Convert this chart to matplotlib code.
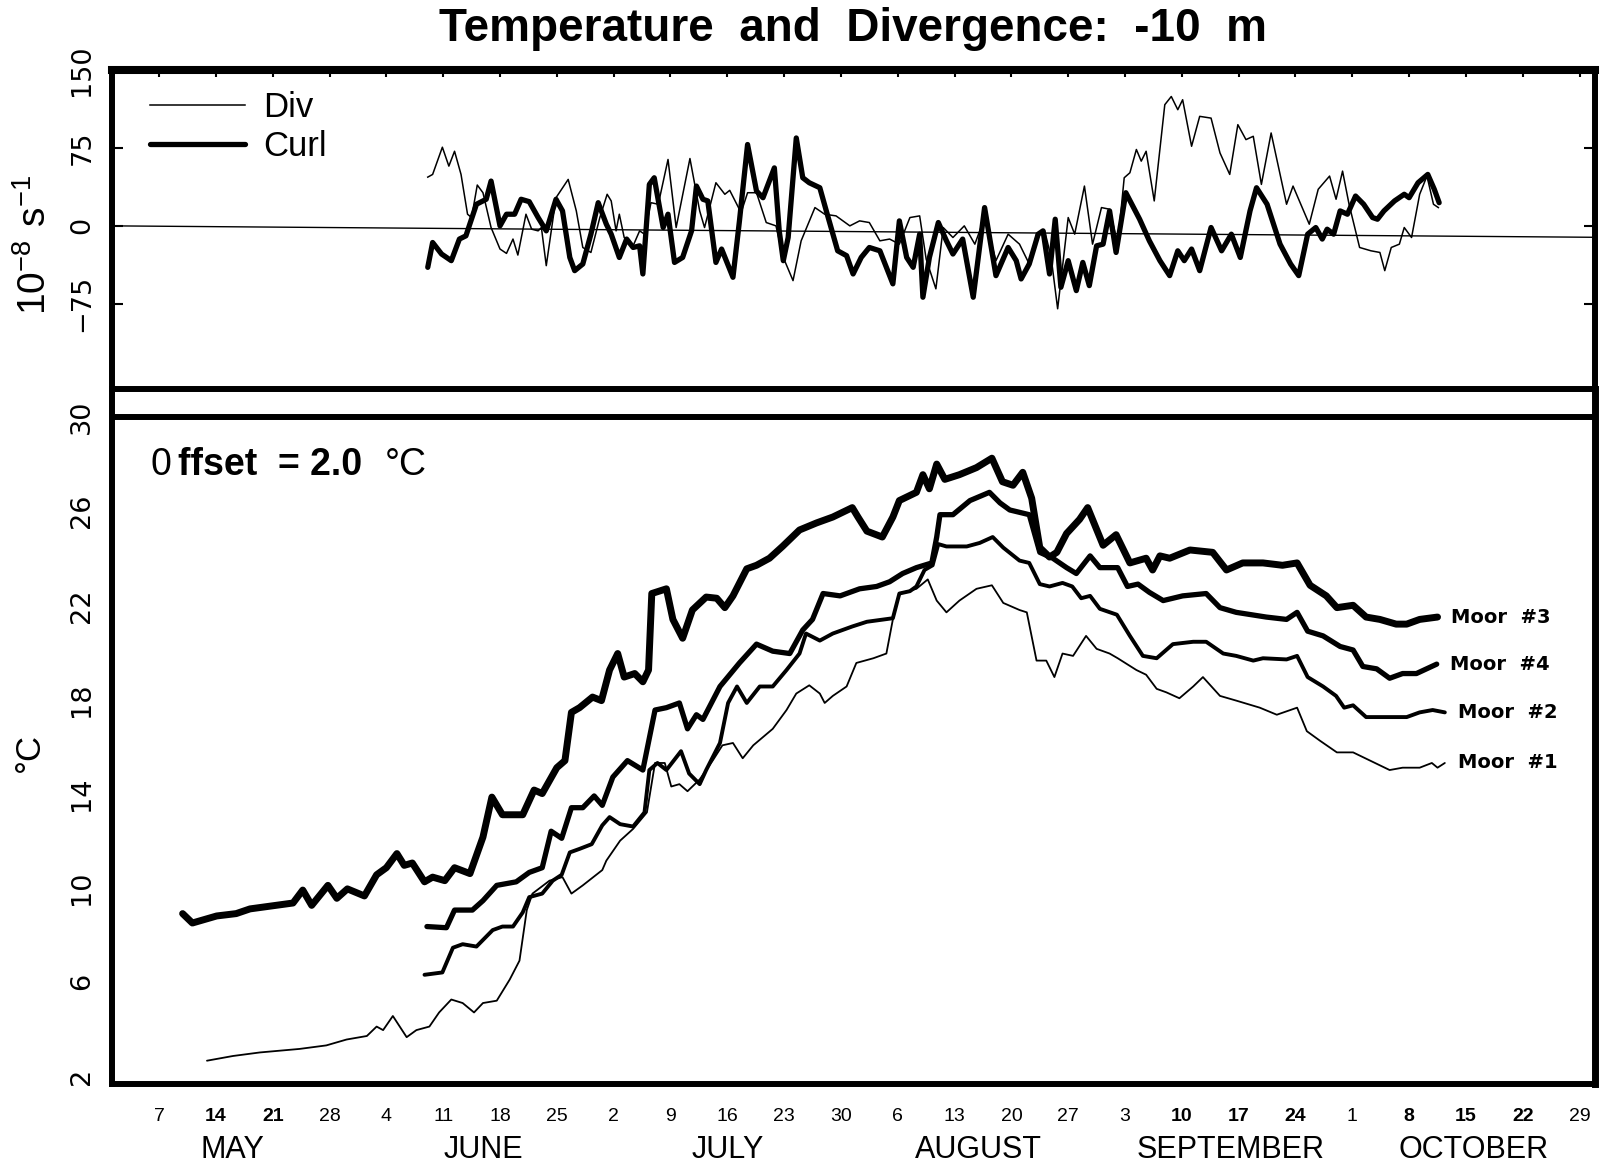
"""
Temperature and divergence at -10 m: curl/div time series above,
mooring temperatures (offset 2 C) below.
"""

import numpy as np
import matplotlib.pyplot as plt

plt.rcParams['mathtext.fontset'] = 'custom'
plt.rcParams['mathtext.rm'] = 'Liberation Sans'

NARROW = ['Liberation Sans Narrow', 'Liberation Sans']

# x axis is day of year (May 7 = 127)
week_days = [127, 134, 141, 148, 155, 162, 169, 176, 183, 190, 197, 204, 211,
	218, 225, 232, 239, 246, 253, 260, 267, 274, 281, 288, 295, 302]
week_labels = ['7', '14', '21', '28', '4', '11', '18', '25', '2', '9', '16', '23', '30',
	'6', '13', '20', '27', '3', '10', '17', '24', '1', '8', '15', '22', '29']
bold_weeks = [1, 2, 18, 19, 20, 22, 23, 24]
month_days = [136, 167, 197, 228, 259, 289]
month_labels = ['MAY', 'JUNE', 'JULY', 'AUGUST', 'SEPTEMBER', 'OCTOBER']

# top panel, 10^-8 s^-1 (zero line is slightly tilted in the scan)
zero_line = [(121.2, 0.0), (303.9, -11.0)]

div_pts = [(160.1, 46.9), (160.7, 49.5), (161.9, 75.7), (162.7, 57.5), (163.4, 71.8),
	(164.2, 49.5), (165.0, 11.2), (165.5, 8.0), (166.2, 39.3), (166.9, 31.9),
	(167.9, -1.6), (169.0, -22.3), (169.8, -26.5), (170.6, -12.7), (171.2, -28.1),
	(172.2, 11.2), (172.9, -3.2), (173.7, -4.8), (174.1, -1.6), (174.7, -38.3),
	(175.9, 27.1), (177.4, 44.7), (178.4, 14.4), (179.2, -20.8), (180.2, -25.6),
	(181.3, 8.0), (182.2, 30.4), (182.7, 24.0), (183.3, -4.8), (183.7, 11.2),
	(184.3, -11.2), (185.4, -19.2), (186.2, -4.8), (186.8, -8.0), (187.6, 22.3),
	(188.5, 20.8), (189.7, 63.9), (190.7, -1.6), (192.4, 64.8), (193.6, 14.4),
	(194.2, -1.6), (195.6, 41.5), (196.7, 30.4), (197.3, 34.2), (198.7, 12.7),
	(199.5, 31.9), (200.6, 31.9), (201.8, 3.2), (203.0, 0.0), (203.9, -30.4),
	(205.1, -52.7), (206.1, -14.4), (207.8, 17.6), (209.0, 11.2), (210.4, 9.6),
	(212.1, 0.0), (213.3, 4.8), (214.5, 3.2), (215.8, -14.4), (217.0, -12.7),
	(218.2, -17.6), (219.5, 8.0), (220.7, 9.6), (221.5, -31.9), (222.7, -60.6),
	(223.6, -1.6), (224.8, -11.2), (226.2, 0.0), (227.5, -17.6), (228.7, 8.0),
	(230.1, -33.5), (231.6, -8.0), (233.0, -17.6), (234.2, -36.7), (235.1, -8.0),
	(236.1, -4.8), (236.9, -30.4), (237.7, -79.8), (239.0, 8.0), (239.8, -8.0),
	(241.0, 38.3), (242.0, -17.6), (243.1, 17.6), (244.1, 16.0), (245.1, -17.6),
	(245.9, 46.3), (246.6, 51.1), (247.4, 73.5), (248.0, 62.3), (248.6, 71.8),
	(249.6, 24.0), (250.9, 116.6), (251.7, 124.5), (252.5, 111.8), (253.1, 121.4),
	(254.2, 76.6), (255.2, 105.4), (256.6, 103.7), (257.7, 70.2), (258.9, 49.5),
	(259.9, 97.4), (260.9, 83.0), (261.8, 86.2), (262.8, 39.9), (264.0, 89.4),
	(265.9, 20.8), (266.7, 38.3), (268.7, 1.6), (269.8, 35.2), (271.2, 47.9),
	(272.0, 25.6), (272.8, 52.7), (273.6, 20.8), (274.9, -20.8), (276.3, -24.0),
	(277.4, -25.6), (278.0, -43.1), (278.8, -20.8), (279.8, -17.6), (280.4, -1.6),
	(281.3, -11.2), (282.3, 30.4), (283.2, 47.9), (284.0, 20.8), (284.6, 17.6)]

curl_pts = [(160.1, -39.9), (160.7, -16.0), (161.8, -27.1), (163.0, -33.5), (164.0, -12.7),
	(164.8, -9.6), (166.1, 20.8), (167.3, 25.6), (167.9, 43.1), (169.0, 0.0),
	(169.8, 11.2), (170.8, 11.2), (171.6, 25.6), (172.6, 23.3), (173.7, 8.0),
	(174.7, -4.8), (175.9, 25.6), (176.7, 14.4), (177.6, -30.4), (178.2, -43.1),
	(179.2, -36.7), (180.2, -8.0), (181.1, 22.3), (182.1, 1.6), (182.7, -8.0),
	(183.7, -30.4), (184.6, -12.7), (185.4, -20.8), (186.2, -19.2), (186.6, -46.3),
	(187.4, 39.9), (188.0, 46.3), (189.1, -1.6), (189.7, 11.2), (190.5, -35.2),
	(191.5, -30.4), (192.6, -4.8), (193.2, 38.3), (194.0, 25.6), (194.6, 24.0),
	(195.6, -35.2), (196.3, -22.3), (197.7, -49.5), (198.5, 4.8), (199.5, 78.3),
	(200.6, 33.5), (201.4, 27.1), (202.8, 55.8), (203.4, -4.8), (203.9, -33.5),
	(204.5, -11.2), (205.5, 84.6), (206.3, 46.3), (207.1, 41.5), (208.4, 36.7),
	(209.2, 14.4), (210.6, -24.0), (211.7, -28.7), (212.5, -46.3), (213.5, -30.4),
	(214.5, -20.8), (215.8, -24.0), (217.4, -55.8), (218.2, 4.8), (219.1, -30.4),
	(219.9, -39.9), (220.7, -8.0), (221.1, -68.7), (221.9, -30.4), (223.0, 3.2),
	(224.0, -14.4), (224.8, -27.1), (226.0, -12.7), (227.3, -68.7), (228.7, 17.6),
	(230.1, -47.9), (231.6, -20.8), (232.6, -33.5), (233.2, -51.1), (234.2, -36.7),
	(235.3, -8.0), (235.9, -4.8), (236.7, -46.3), (237.4, 6.4), (238.1, -59.1),
	(239.0, -33.5), (240.0, -62.3), (240.8, -35.2), (241.6, -57.5), (242.5, -19.2),
	(243.3, -17.6), (244.1, 14.4), (244.9, -25.6), (246.1, 31.9), (247.8, 6.4),
	(249.0, -14.4), (250.3, -33.5), (251.5, -47.9), (252.5, -24.0), (253.3, -33.5),
	(254.2, -22.3), (255.2, -43.1), (256.6, -1.6), (257.9, -24.0), (259.1, -8.0),
	(260.2, -30.4), (261.4, 14.4), (262.2, 36.7), (263.5, 20.8), (265.1, -17.6),
	(266.4, -36.7), (267.4, -47.9), (268.5, -8.0), (269.5, -1.6), (270.3, -12.7),
	(270.9, -3.2), (271.7, -8.0), (272.5, 14.4), (273.4, 11.2), (274.4, 28.7),
	(275.4, 20.8), (276.5, 8.0), (277.1, 6.4), (277.9, 14.4), (279.2, 24.0),
	(280.4, 30.4), (281.0, 27.1), (282.1, 41.5), (283.3, 49.5), (284.1, 35.2),
	(284.7, 22.3)]

# bottom panel, deg C
moor3_pts = [(129.9, 8.9), (131.1, 8.5), (134.1, 8.8), (136.5, 8.9), (138.2, 9.1),
	(143.5, 9.35), (144.7, 9.9), (145.8, 9.25), (147.8, 10.1), (148.9, 9.55),
	(150.2, 9.95), (152.3, 9.65), (153.8, 10.55), (155.0, 10.85), (156.3, 11.45),
	(157.2, 10.95), (158.2, 11.05), (159.7, 10.25), (160.7, 10.45), (162.2, 10.3),
	(163.4, 10.85), (165.3, 10.6), (166.9, 12.15), (168.0, 13.85), (169.3, 13.1),
	(171.8, 13.1), (173.2, 14.15), (174.2, 14.0), (176.0, 15.1), (177.0, 15.4),
	(177.8, 17.45), (178.8, 17.65), (180.4, 18.1), (181.5, 17.95), (182.5, 19.25),
	(183.5, 19.95), (184.3, 18.95), (185.6, 19.1), (186.6, 18.75), (187.3, 19.25),
	(187.7, 22.5), (189.5, 22.7), (190.3, 21.4), (191.5, 20.6), (192.7, 21.8),
	(194.4, 22.35), (195.7, 22.3), (196.7, 21.9), (197.7, 22.4), (199.4, 23.55),
	(200.6, 23.7), (202.2, 24.0), (203.8, 24.5), (205.9, 25.2), (208.0, 25.5),
	(210.0, 25.75), (212.4, 26.15), (213.1, 25.75), (214.2, 25.15), (216.1, 24.9),
	(217.4, 25.75), (218.2, 26.45), (220.3, 26.8), (221.1, 27.55), (221.9, 26.95),
	(222.8, 28.0), (223.8, 27.35), (225.6, 27.55), (227.7, 27.85), (229.6, 28.25),
	(230.9, 27.25), (232.2, 27.1), (233.4, 27.65), (234.5, 26.55), (235.5, 24.45),
	(236.7, 24.05), (237.6, 24.25), (238.8, 25.05), (240.4, 25.65), (241.4, 26.15),
	(243.3, 24.55), (244.9, 25.0), (246.6, 23.8), (248.6, 24.0), (249.4, 23.5),
	(250.3, 24.1), (251.5, 24.0), (254.0, 24.35), (256.8, 24.25), (258.5, 23.5),
	(260.5, 23.8), (263.0, 23.8), (265.4, 23.7), (267.2, 23.8), (268.8, 22.85),
	(270.8, 22.4), (272.1, 21.9), (274.1, 22.0), (275.7, 21.5), (277.4, 21.4),
	(279.4, 21.2), (280.7, 21.2), (282.3, 21.4), (284.5, 21.5)]

moor4_pts = [(160.0, 8.35), (162.4, 8.3), (163.4, 9.05), (165.6, 9.05), (166.9, 9.45),
	(168.6, 10.1), (171.0, 10.25), (172.6, 10.65), (174.2, 10.85), (175.3, 12.4),
	(176.6, 12.1), (177.8, 13.4), (179.2, 13.4), (180.6, 13.9), (181.6, 13.5),
	(182.9, 14.7), (184.7, 15.4), (186.6, 15.0), (188.1, 17.55), (189.5, 17.65),
	(191.1, 17.85), (192.1, 16.75), (193.2, 17.35), (194.0, 17.15), (196.1, 18.55),
	(198.5, 19.55), (200.6, 20.35), (202.6, 20.05), (204.7, 19.95), (206.3, 20.95),
	(207.5, 21.4), (208.8, 22.5), (210.9, 22.4), (213.3, 22.7), (215.4, 22.8),
	(217.0, 23.0), (218.6, 23.35), (220.3, 23.6), (222.2, 23.8), (222.8, 24.9),
	(223.2, 25.85), (224.8, 25.85), (226.9, 26.45), (229.3, 26.8), (230.6, 26.35),
	(231.8, 26.05), (234.2, 25.85), (235.5, 24.25), (237.1, 24.0), (238.8, 23.6),
	(240.0, 23.35), (241.7, 24.1), (242.9, 23.6), (245.1, 23.6), (246.3, 22.8),
	(247.6, 22.9), (249.0, 22.55), (250.7, 22.2), (253.1, 22.4), (256.0, 22.5),
	(257.7, 21.9), (259.7, 21.7), (263.4, 21.5), (265.9, 21.4), (267.2, 21.7),
	(268.5, 20.9), (270.4, 20.7), (272.5, 20.25), (274.1, 20.1), (275.3, 19.4),
	(277.0, 19.3), (278.6, 18.9), (280.2, 19.1), (281.9, 19.1), (284.4, 19.5)]

moor2_pts = [(159.7, 6.3), (161.9, 6.4), (163.2, 7.45), (164.4, 7.6), (166.1, 7.5),
	(168.1, 8.2), (169.3, 8.35), (170.6, 8.35), (171.8, 8.95), (172.6, 9.6),
	(174.2, 9.75), (175.5, 10.3), (176.6, 10.55), (177.6, 11.5), (178.8, 11.65),
	(180.3, 11.85), (181.6, 12.65), (182.5, 13.0), (183.8, 12.7), (185.4, 12.6),
	(186.8, 13.2), (187.4, 15.0), (188.4, 15.3), (189.5, 15.0), (191.3, 15.8),
	(192.3, 14.85), (193.6, 14.4), (194.4, 15.0), (196.1, 16.15), (197.1, 17.85),
	(198.2, 18.55), (199.4, 17.85), (201.0, 18.55), (202.6, 18.55), (204.3, 19.25),
	(205.9, 19.95), (206.7, 20.8), (208.4, 20.5), (210.0, 20.8), (212.4, 21.1),
	(214.2, 21.3), (217.4, 21.45), (218.2, 22.5), (219.5, 22.6), (220.3, 22.8),
	(221.3, 23.5), (222.3, 23.7), (223.0, 24.6), (224.0, 24.5), (226.5, 24.5),
	(228.1, 24.65), (229.7, 24.9), (231.0, 24.45), (233.0, 23.9), (234.2, 23.8),
	(235.5, 22.9), (236.7, 22.8), (238.3, 22.95), (239.5, 22.8), (240.6, 22.3),
	(241.7, 22.4), (242.9, 21.85), (245.0, 21.6), (246.6, 20.7), (248.2, 19.85),
	(249.9, 19.75), (251.9, 20.35), (254.4, 20.45), (256.0, 20.45), (258.1, 19.95),
	(259.7, 19.85), (261.8, 19.65), (263.0, 19.75), (265.9, 19.7), (267.2, 19.85),
	(268.5, 18.95), (270.4, 18.55), (272.0, 18.15), (273.0, 17.65), (274.1, 17.75),
	(275.7, 17.25), (277.7, 17.25), (280.7, 17.25), (282.3, 17.45), (283.9, 17.55),
	(285.4, 17.45)]

moor1_pts = [(132.9, 2.65), (136.1, 2.85), (139.4, 3.0), (144.3, 3.15), (147.6, 3.3),
	(150.1, 3.55), (152.6, 3.7), (153.8, 4.1), (154.6, 3.95), (155.8, 4.55),
	(157.5, 3.65), (158.7, 3.95), (160.3, 4.1), (161.5, 4.7), (163.0, 5.25),
	(164.4, 5.1), (165.8, 4.7), (166.9, 5.1), (168.6, 5.2), (170.2, 6.1),
	(171.4, 6.9), (172.3, 9.05), (173.0, 9.75), (175.1, 10.3), (176.7, 10.45),
	(177.8, 9.75), (179.2, 10.1), (181.6, 10.75), (182.1, 11.15), (183.8, 12.0),
	(185.4, 12.5), (187.1, 13.2), (188.1, 15.3), (189.3, 15.3), (190.1, 14.3),
	(191.1, 14.4), (192.1, 14.1), (193.6, 14.6), (195.2, 15.4), (196.4, 16.05),
	(197.7, 16.15), (198.9, 15.5), (200.2, 16.05), (202.6, 16.75), (204.3, 17.55),
	(205.5, 18.25), (207.1, 18.6), (208.4, 18.25), (209.0, 17.85), (210.0, 18.15),
	(211.7, 18.55), (212.9, 19.55), (215.0, 19.75), (216.6, 19.95), (217.4, 21.4),
	(218.2, 22.5), (220.3, 22.7), (221.7, 23.1), (222.8, 22.2), (224.0, 21.7),
	(225.6, 22.2), (227.7, 22.7), (229.6, 22.85), (231.0, 22.1), (233.0, 21.8),
	(233.9, 21.7), (235.1, 19.65), (236.3, 19.65), (237.3, 18.95), (238.3, 19.95),
	(239.6, 19.85), (241.2, 20.7), (242.5, 20.15), (244.1, 19.95), (245.1, 19.75),
	(247.4, 19.25), (248.6, 19.05), (249.9, 18.45), (251.1, 18.3), (252.7, 18.05),
	(254.4, 18.55), (255.6, 18.95), (257.7, 18.15), (259.7, 17.95), (262.6, 17.65),
	(264.7, 17.35), (267.2, 17.65), (268.4, 16.65), (270.0, 16.25), (272.1, 15.75),
	(274.1, 15.75), (276.2, 15.4), (278.6, 15.0), (280.2, 15.1), (282.3, 15.1),
	(283.8, 15.3), (284.5, 15.1), (285.4, 15.3)]

moor_names = ['Moor  #3', 'Moor  #4', 'Moor  #2', 'Moor  #1']


def px(x, y):
	"""figure pixel (from top left) -> figure fraction"""
	return x / 1604.0, 1.0 - y / 1174.0


def main():
	fig = plt.figure(figsize=(16.04, 11.74), dpi=100)
	left, right = 112 / 1604.0, 1595 / 1604.0
	ax_top = fig.add_axes([left, 1 - 389 / 1174.0, right - left, (389 - 70) / 1174.0])
	ax_bot = fig.add_axes([left, 1 - 1084 / 1174.0, right - left, (1084 - 389) / 1174.0])

	xlim = (121.2, 303.9)

	#top panel
	z = np.array(zero_line)
	ax_top.plot(z[:, 0], z[:, 1], color='black', lw=1.0)
	d = np.array(div_pts)
	c = np.array(curl_pts)
	ax_top.plot(d[:, 0], d[:, 1], color='black', lw=1.1, solid_joinstyle='round', label='Div')
	ax_top.plot(c[:, 0], c[:, 1], color='black', lw=3.8, solid_joinstyle='round',
		solid_capstyle='round', label='Curl')

	ax_top.set_xlim(*xlim)
	ax_top.set_ylim(-157, 150)
	ax_top.set_xticks(week_days)
	ax_top.xaxis.tick_top()
	ax_top.tick_params(axis='x', direction='in', length=5, width=1.5, labeltop=False,
		labelbottom=False)
	ax_top.set_yticks([-75, 0, 75, 150], labels=['\u221275', '0', '75', '150'])
	ax_top.tick_params(axis='y', direction='in', length=8, width=1.5, left=True, right=True,
		pad=12, labelsize=19.5, labelrotation=90)
	for lbl in ax_top.get_yticklabels():
		lbl.set_va('center')
	for side in ['left', 'right']:
		ax_top.spines[side].set_linewidth(4.3)
	ax_top.spines['top'].set_linewidth(5.8)
	ax_top.spines['bottom'].set_visible(False)

	leg = ax_top.legend(loc='upper left', bbox_to_anchor=px(150, 91), bbox_transform=fig.transFigure,
		frameon=False, fontsize=25, handlelength=2.75, handletextpad=0.5,
		labelspacing=0.18, borderpad=0, borderaxespad=0)
	for t in leg.get_texts():
		t.set_family('Liberation Sans')

	#bottom panel
	widths = [5.0, 3.8, 2.8, 1.3]
	for pts, lw, name in zip([moor3_pts, moor4_pts, moor2_pts, moor1_pts], widths, moor_names):
		a = np.array(pts)
		ax_bot.plot(a[:, 0], a[:, 1], color='black', lw=lw, solid_joinstyle='round',
			solid_capstyle='round')
		ax_bot.text(a[-1, 0] + 1.6, a[-1, 1], name, ha='left', va='center', fontsize=14,
			fontweight='bold', family='DejaVu Sans')

	ax_bot.axhline(30, color='black', lw=4.3)
	ax_bot.set_xlim(*xlim)
	ax_bot.set_ylim(1.66, 31.19)
	ax_bot.set_yticks([2, 6, 10, 14, 18, 22, 26, 30])
	ax_bot.tick_params(axis='y', length=0, pad=12, labelsize=19.5, labelrotation=90)
	for lbl in ax_bot.get_yticklabels():
		lbl.set_va('center')

	ax_bot.xaxis.remove_overlapping_locs = False
	ax_bot.set_xticks(week_days, labels=week_labels)
	ax_bot.tick_params(axis='x', which='major', length=0, pad=17, labelsize=14)
	for i, lbl in enumerate(ax_bot.get_xticklabels()):
		lbl.set_family('Liberation Sans')
		if i in bold_weeks:
			lbl.set_fontweight('bold')
	ax_bot.set_xticks(month_days, labels=month_labels, minor=True)
	ax_bot.tick_params(axis='x', which='minor', length=0, pad=37, labelsize=22)
	for lbl in ax_bot.get_xticklabels(minor=True):
		lbl.set_family(NARROW)
	for side in ['left', 'bottom', 'top']:
		ax_bot.spines[side].set_linewidth(4.3)
	ax_bot.spines['right'].set_linewidth(5.0)

	#texts
	fig.text(*px(853, 29), 'Temperature  and  Divergence:  -10  m', ha='center', va='center',
		fontsize=33, fontweight='bold', family='Liberation Sans')
	fig.text(*px(35, 245), r'$\mathrm{10^{-8}\ s^{-1}}$', rotation=90, ha='center',
		va='center', fontsize=28)
	fig.text(*px(29, 752), '\u00b0C', rotation=90, ha='center', va='center', fontsize=25,
		family='Liberation Sans')
	fig.text(*px(151, 465), '0', ha='left', va='center', fontsize=27, family=NARROW)
	fig.text(*px(178, 465), 'ffset  = 2.0', ha='left', va='center', fontsize=27,
		fontweight='bold', family='Liberation Sans')
	fig.text(*px(385, 465), '\u00b0C', ha='left', va='center', fontsize=27, family=NARROW)

	fig.savefig('out.png', dpi=100)
	plt.close()


if __name__ == '__main__':
	main()
